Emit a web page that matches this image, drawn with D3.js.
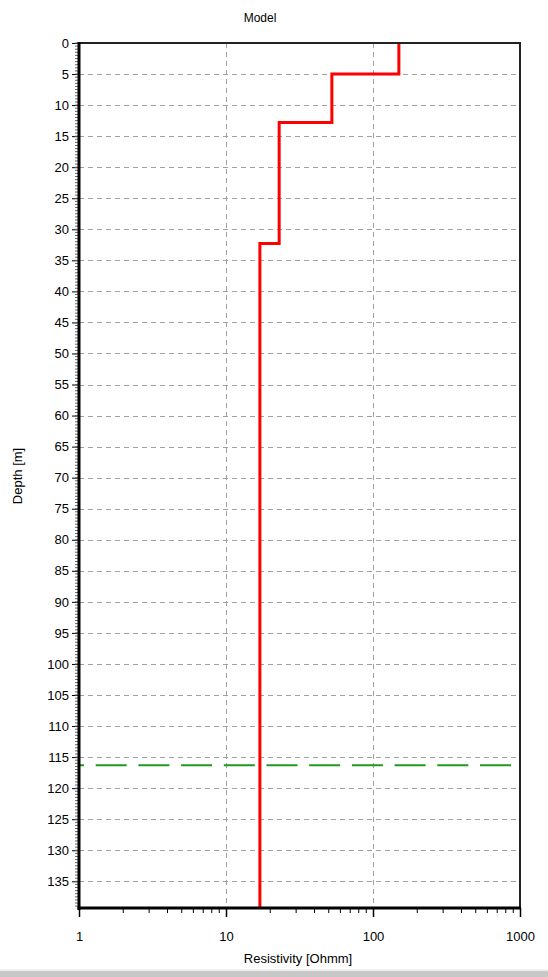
<!DOCTYPE html>
<html>
<head>
<meta charset="utf-8">
<script src="https://cdn.jsdelivr.net/npm/d3@7/dist/d3.min.js"></script>
<style>
  html, body { margin: 0; padding: 0; background: #fff; }
  svg { display: block; }
  text { font-family: "Liberation Sans", Arial, sans-serif; fill: #000; }
</style>
</head>
<body>
<svg id="chart" width="548" height="977"></svg>
<script>
// ---- data ----
const layerTops = [0, 5, 12.8, 32.3];          // depth of top of each layer [m]
const layerResistivity = [150, 52.5, 23, 17];  // resistivity of each layer [Ohmm]
const depthMax = 139.3;                        // bottom of plotted depth range
const doiDepth = 116.3;                        // green dashed line depth
const depthTicks = [0,5,10,15,20,25,30,35,40,45,50,55,60,65,70,75,80,85,90,95,100,105,110,115,120,125,130,135];
const resTicks = [1, 10, 100, 1000];
const resMinorTicks = [2,3,4,5,6,7,8,9,20,30,40,50,60,70,80,90,200,300,400,500,600,700,800,900];
const titleText = "Model";
const xTitle = "Resistivity [Ohmm]";
const yTitle = "Depth [m]";

// ---- layout ----
const L = 79, R = 520, T = 43, B = 908;
const svg = d3.select("#chart");

const x = d3.scaleLog().domain([1, 1000]).range([L, R]);
const y = d3.scaleLinear().domain([0, depthMax]).range([T, B]);

// bottom gray bar (window frame)
svg.append("rect").attr("x", 0).attr("y", 969).attr("width", 548).attr("height", 2).attr("fill", "#efefef");
svg.append("rect").attr("x", 0).attr("y", 971).attr("width", 548).attr("height", 6).attr("fill", "#c8c8c8");

// grid
const grid = svg.append("g").attr("stroke", "#a0a0a0").attr("stroke-width", 1).attr("stroke-dasharray", "5,4");
grid.selectAll("line.h").data(depthTicks.filter(d => d > 0)).enter().append("line")
  .attr("x1", L).attr("x2", R).attr("y1", d => Math.round(y(d)) + 0.5).attr("y2", d => Math.round(y(d)) + 0.5);
grid.selectAll("line.v").data(resTicks.filter(d => d > 1 && d < 1000)).enter().append("line")
  .attr("y1", T).attr("y2", B).attr("x1", d => Math.round(x(d)) + 0.5).attr("x2", d => Math.round(x(d)) + 0.5);

// green dashed line
svg.append("line")
  .attr("x1", L).attr("x2", R).attr("y1", y(doiDepth)).attr("y2", y(doiDepth))
  .attr("stroke", "#1e9a1e").attr("stroke-width", 2).attr("stroke-dasharray", "31,11.7")
  .attr("stroke-dashoffset", 26);

// red model
const pts = [];
layerTops.forEach((t, i) => {
  const bot = i < layerTops.length - 1 ? layerTops[i + 1] : depthMax;
  pts.push([layerResistivity[i], t]);
  pts.push([layerResistivity[i], bot]);
});
svg.append("path")
  .datum(pts)
  .attr("d", d3.line().x(d => x(d[0])).y(d => y(d[1])))
  .attr("fill", "none").attr("stroke", "#ff0000").attr("stroke-width", 3)
  .attr("stroke-linejoin", "miter");

// frame: top & right thin
svg.append("path")
  .attr("d", `M${L},${T}H${R}V${B}`)
  .attr("fill", "none").attr("stroke", "#222").attr("stroke-width", 2);

// left axis
const yAxis = d3.axisLeft(y).tickValues(depthTicks).tickSize(7).tickPadding(3).tickFormat(d3.format("d"));
const gy = svg.append("g").attr("transform", `translate(${L},0)`).call(yAxis);
gy.select(".domain").remove();
gy.selectAll(".tick line").attr("stroke", "#000");
gy.selectAll(".tick text").style("font-size", "13px").attr("font-family", null);
// minor ticks
const minorDepth = d3.range(0, depthMax, 0.5);
svg.append("g").selectAll("line").data(minorDepth).enter().append("line")
  .attr("x1", L - 4).attr("x2", L).attr("y1", d => y(d)).attr("y2", d => y(d))
  .attr("stroke", "#666").attr("stroke-width", 1);
svg.append("line").attr("x1", L).attr("x2", L).attr("y1", T - 1).attr("y2", B + 2)
  .attr("stroke", "#000").attr("stroke-width", 3);

// bottom axis
const xAxis = d3.axisBottom(x).tickValues(resTicks).tickSize(9).tickPadding(15).tickFormat(d3.format("d"));
const gx = svg.append("g").attr("transform", `translate(0,${B})`).call(xAxis);
gx.select(".domain").remove();
gx.selectAll(".tick line").attr("stroke", "#000").attr("stroke-width", 1.5);
gx.selectAll(".tick text").style("font-size", "13px").attr("font-family", null);
svg.append("g").selectAll("line").data(resMinorTicks).enter().append("line")
  .attr("x1", d => x(d)).attr("x2", d => x(d)).attr("y1", B).attr("y2", B + 5)
  .attr("stroke", "#000").attr("stroke-width", 1);
svg.append("line").attr("x1", L - 1.5).attr("x2", R + 1).attr("y1", B).attr("y2", B)
  .attr("stroke", "#000").attr("stroke-width", 3);

// titles
svg.append("text").attr("x", 260).attr("y", 22).attr("text-anchor", "middle").style("font-size", "12px").text(titleText);
svg.append("text").attr("x", 298).attr("y", 963).attr("text-anchor", "middle").style("font-size", "13px").text(xTitle);
svg.append("text").attr("transform", "translate(22,476) rotate(-90)").attr("text-anchor", "middle").style("font-size", "13px").text(yTitle);
</script>
</body>
</html>
